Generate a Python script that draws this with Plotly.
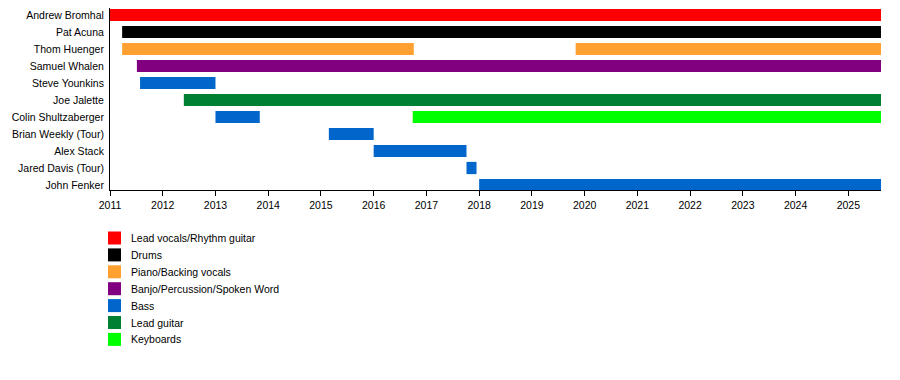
import plotly.graph_objects as go

# ---- data ----
members = ["Andrew Bromhal", "Pat Acuna", "Thom Huenger", "Samuel Whalen",
           "Steve Younkins", "Joe Jalette", "Colin Shultzaberger",
           "Brian Weekly (Tour)", "Alex Stack", "Jared Davis (Tour)", "John Fenker"]

roles = ["Lead vocals/Rhythm guitar", "Drums", "Piano/Backing vocals",
         "Banjo/Percussion/Spoken Word", "Bass", "Lead guitar", "Keyboards"]
role_colors = ["#ff0000", "#000000", "#ffa030", "#800080", "#0066cc", "#008033", "#00ff00"]

END = 2025.62
# (member, role, start, end)
bar_member = ["Andrew Bromhal", "Pat Acuna", "Thom Huenger", "Thom Huenger",
              "Samuel Whalen", "Steve Younkins", "Joe Jalette",
              "Colin Shultzaberger", "Colin Shultzaberger",
              "Brian Weekly (Tour)", "Alex Stack", "Jared Davis (Tour)", "John Fenker"]
bar_role = ["Lead vocals/Rhythm guitar", "Drums", "Piano/Backing vocals", "Piano/Backing vocals",
            "Banjo/Percussion/Spoken Word", "Bass", "Lead guitar",
            "Bass", "Keyboards",
            "Bass", "Bass", "Bass", "Bass"]
bar_start = [2011.0, 2011.23, 2011.23, 2019.83, 2011.51, 2011.57, 2012.40,
             2013.0, 2016.74, 2015.15, 2016.0, 2017.76, 2018.0]
bar_end = [END, END, 2016.76, END, END, 2013.0, END,
           2013.84, END, 2016.0, 2017.76, 2017.95, END]

years = list(range(2011, 2026))

# ---- layout geometry (pixels, in screenshot coordinates; page has 8px body margin) ----
OFF = 8
W, H = 900, 380
PL, PR, PT, PB = 110, 881, 8, 190      # plot area in screenshot pixels
ML = PL - OFF
MT = PT - OFF
MR = W - (PR - OFF)
MB = H - (PB - OFF)
PW, PH = PR - PL, PB - PT
ROW = 17.0
y_top = -(15 - PT) / ROW            # row 0 centre at 15px
y_bot = y_top + PH / ROW

fig = go.Figure()
for role, col in zip(roles, role_colors):
    idx = [i for i, r in enumerate(bar_role) if r == role]
    if not idx:
        continue
    fig.add_trace(go.Bar(
        orientation="h",
        y=[members.index(bar_member[i]) for i in idx],
        x=[bar_end[i] - bar_start[i] for i in idx],
        base=[bar_start[i] for i in idx],
        width=0.72,
        marker=dict(color=col, line=dict(width=0)),
        name=role, showlegend=False,
    ))

# legend drawn manually (paper coordinates from screenshot pixels)
def px_x(p):
    return (p - PL) / PW

def px_y(p):
    return (PB - p) / PH

shapes, annos = [], []
for k, (role, col) in enumerate(zip(roles, role_colors)):
    cy = 238 + k * 16.9
    shapes.append(dict(type="rect", xref="paper", yref="paper",
                       x0=px_x(108), x1=px_x(121), y0=px_y(cy + 6.5), y1=px_y(cy - 6.5),
                       fillcolor=col, line=dict(width=0)))
    annos.append(dict(xref="paper", yref="paper", x=px_x(129), y=px_y(cy),
                      text=role, showarrow=False, xanchor="left", yanchor="middle",
                      font=dict(size=10.5, color="#000000")))

fig.update_layout(
    width=W, height=H,
    margin=dict(l=ML, r=MR, t=MT, b=MB, pad=0),
    paper_bgcolor="white", plot_bgcolor="white",
    barmode="overlay",
    font=dict(family="Liberation Sans, Arial, sans-serif", size=10.5, color="#000000"),
    xaxis=dict(range=[2011, END], tickvals=years, ticktext=[str(y) for y in years],
               showgrid=False, zeroline=False, showline=True, linecolor="black",
               linewidth=1, ticks="outside", ticklen=5, tickcolor="black",
               tickfont=dict(size=10.5)),
    yaxis=dict(range=[y_bot, y_top], tickvals=list(range(len(members))),
               ticktext=members, showgrid=False, zeroline=False, showline=True,
               linecolor="black", linewidth=1, ticks="", ticklabelstandoff=3,
               tickfont=dict(size=10.5)),
    shapes=shapes, annotations=annos,
    showlegend=False,
)

fig.write_html("out.html")
